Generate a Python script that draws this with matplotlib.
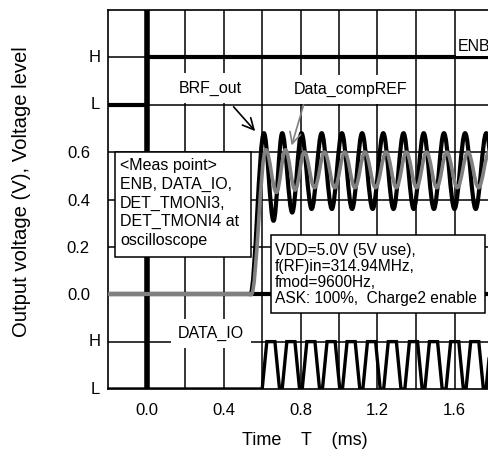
import matplotlib
matplotlib.use("Agg")
import matplotlib.pyplot as plt
from matplotlib.path import Path
from matplotlib.patches import PathPatch, Rectangle

plt.rcParams['font.family'] = ['Liberation Sans', 'DejaVu Sans']

# ENB level (L = 0.8, H = 1.0 on the shared axis)
enb_t = [-0.2, 0.0, 0.0, 1.8]
enb_v = [0.8, 0.8, 1.0, 1.0]

# BRF_out (black): baseline, then alternating peaks / troughs
brf_base_t = [-0.2, 0.54]
brf_t = [0.54, 0.61, 0.66, 0.705, 0.757, 0.805, 0.858, 0.91, 0.963, 1.015, 1.068, 1.12,
         1.175, 1.23, 1.283, 1.335, 1.388, 1.44, 1.493, 1.545, 1.60, 1.655, 1.71, 1.765, 1.82]
brf_v = [0.0, 0.68, 0.31, 0.68, 0.345, 0.68, 0.36, 0.68, 0.36, 0.68, 0.36, 0.68,
         0.36, 0.68, 0.36, 0.68, 0.36, 0.68, 0.36, 0.68, 0.36, 0.68, 0.36, 0.68, 0.36]

# Data_compREF (grey)
ref_base_t = [-0.2, 0.545]
ref_t = [0.545, 0.62, 0.675, 0.722, 0.772, 0.82, 0.873, 0.925, 0.978, 1.03, 1.083, 1.135,
         1.19, 1.245, 1.298, 1.35, 1.403, 1.455, 1.508, 1.56, 1.615, 1.67, 1.725, 1.78, 1.835]
ref_v = [0.0, 0.61, 0.43, 0.61, 0.44, 0.60, 0.45, 0.60, 0.45, 0.60, 0.45, 0.60,
         0.45, 0.60, 0.45, 0.60, 0.45, 0.60, 0.45, 0.60, 0.45, 0.60, 0.45, 0.60, 0.45]

# other monitor trace sitting at 0 V
det_t = [-0.2, 1.8]
det_v = [0.0, 0.0]

# DATA_IO (L = -0.4, H = -0.2): pulse start times
dio_start = [0.601, 0.705, 0.809, 0.914, 1.018, 1.124, 1.232, 1.342, 1.446, 1.556, 1.66, 1.764]
dio_rise, dio_high, dio_fall = 0.024, 0.042, 0.024
dio_lo, dio_hi = -0.4, -0.2

xticks = [0.0, 0.4, 0.8, 1.2, 1.6]
xtick_labels = ["0.0", "0.4", "0.8", "1.2", "1.6"]
yticks = [0.0, 0.2, 0.4, 0.6]
ytick_labels = ["0.0", "0.2", "0.4", "0.6"]
level_y = [-0.4, -0.2, 0.8, 1.0]
level_labels = ["L", "H", "L", "H"]

meas_text = "<Meas point>\nENB, DATA_IO,\nDET_TMONI3,\nDET_TMONI4 at\noscilloscope"
cond_text = "VDD=5.0V (5V use),\nf(RF)in=314.94MHz,\nfmod=9600Hz,\nASK: 100%,  Charge2 enable"


def wave_path(ts, vs, k=0.36):
    verts = [(ts[0], vs[0])]
    codes = [Path.MOVETO]
    for i in range(1, len(ts)):
        dt = ts[i] - ts[i - 1]
        verts += [(ts[i - 1] + k * dt, vs[i - 1]), (ts[i] - k * dt, vs[i]), (ts[i], vs[i])]
        codes += [Path.CURVE4] * 3
    return Path(verts, codes)


fig = plt.figure(figsize=(4.89, 4.54), dpi=100)
ax = fig.add_axes([108 / 489, 65 / 454, 385 / 489, 379 / 454])
ax.set_xlim(-0.2, 1.8)
ax.set_ylim(-0.4, 1.2)

# grid every 0.2
for gx in [0.2, 0.4, 0.6, 0.8, 1.0, 1.2, 1.4, 1.6]:
    ax.axvline(gx, color="black", lw=1.1, zorder=1)
for gy in [-0.2, 0.0, 0.2, 0.4, 0.6, 0.8, 1.0]:
    ax.axhline(gy, color="black", lw=1.1, zorder=1)
for s in ax.spines.values():
    s.set_linewidth(1.2)

ax.axvline(0.0, color="black", lw=4.0, zorder=2)
ax.plot(enb_t, enb_v, color="black", lw=3.0, zorder=2)

ax.plot(det_t, det_v, color="black", lw=3.0, zorder=2)
ax.plot(brf_base_t, [0, 0], color="black", lw=3.0, zorder=2)
ax.add_patch(PathPatch(wave_path(brf_t, brf_v), fill=False, edgecolor="black",
                       lw=3.0, zorder=3, joinstyle="round", capstyle="round"))
ax.plot(ref_base_t, [0, 0], color="#808080", lw=3.0, zorder=4)
ax.add_patch(PathPatch(wave_path(ref_t, ref_v), fill=False, edgecolor="#808080",
                       lw=2.6, zorder=4, joinstyle="round", capstyle="round"))

# DATA_IO square wave
dio_t = [-0.2]
dio_v = [dio_lo]
for t0 in dio_start:
    dio_t += [t0, t0 + dio_rise, t0 + dio_rise + dio_high, t0 + dio_rise + dio_high + dio_fall]
    dio_v += [dio_lo, dio_hi, dio_hi, dio_lo]
ax.plot(dio_t, dio_v, color="black", lw=2.4, zorder=3, solid_joinstyle="miter", clip_on=True)

# ticks
ax.set_xticks(xticks)
ax.set_xticklabels(xtick_labels, fontsize=12)
ax.set_yticks(yticks)
ax.set_yticklabels(ytick_labels, fontsize=12)
ax.tick_params(axis="both", length=0)
ax.tick_params(axis="x", pad=10)
ax.tick_params(axis="y", pad=13)
for yv, lab in zip(level_y, level_labels):
    ax.text(-0.034, yv, lab, transform=ax.get_yaxis_transform(), ha="center", va="center",
            fontsize=12)

ax.set_xlabel("Time    T    (ms)", fontsize=13, va="center")
ax.xaxis.set_label_coords(0.512, -0.137)
ax.set_ylabel("Output voltage (V), Voltage level", fontsize=14.6, va="center")
ax.yaxis.set_label_coords(-0.225, 0.522)

# boxes
ax.add_patch(Rectangle((-0.162, 0.157), 0.705, 0.443, facecolor="white", edgecolor="black",
                       lw=1.1, zorder=6))
ax.text(-0.137, 0.575, meas_text, fontsize=11.5, ha="left", va="top", linespacing=1.3, zorder=7)
ax.add_patch(Rectangle((0.647, -0.081), 1.111, 0.332, facecolor="white", edgecolor="black",
                       lw=1.1, zorder=6))
ax.text(0.667, 0.217, cond_text, fontsize=11.2, ha="left", va="top", linespacing=1.1, zorder=7)

# labels with arrows
wbox = dict(boxstyle="square,pad=0.45", facecolor="white", edgecolor="none")
ax.annotate("", xy=(0.574, 0.68), xytext=(0.443, 0.80),
            arrowprops=dict(arrowstyle="->", color="black", lw=1.2, mutation_scale=20), zorder=5)
ax.text(0.334, 0.87, "BRF_out", fontsize=11.5, ha="center", va="center", bbox=wbox, zorder=6)
ax.annotate("", xy=(0.75, 0.617), xytext=(0.82, 0.81),
            arrowprops=dict(arrowstyle="->", color="#808080", lw=1.2, mutation_scale=20), zorder=5)
ax.text(1.06, 0.865, "Data_compREF", fontsize=11.5, ha="center", va="center", bbox=wbox, zorder=6)
ax.annotate("", xy=(0.48, -0.41), xytext=(0.39, -0.21),
            arrowprops=dict(arrowstyle="->", color="black", lw=1.2, mutation_scale=20), zorder=5)
ax.text(0.334, -0.165, "DATA_IO", fontsize=11.5, ha="center", va="center", bbox=wbox, zorder=6)
ax.text(1.617, 1.045, "ENB", fontsize=11.5, ha="left", va="center",
        bbox=dict(boxstyle="square,pad=0.1", facecolor="white", edgecolor="none"), zorder=6)

fig.savefig("out.png", dpi=100)
